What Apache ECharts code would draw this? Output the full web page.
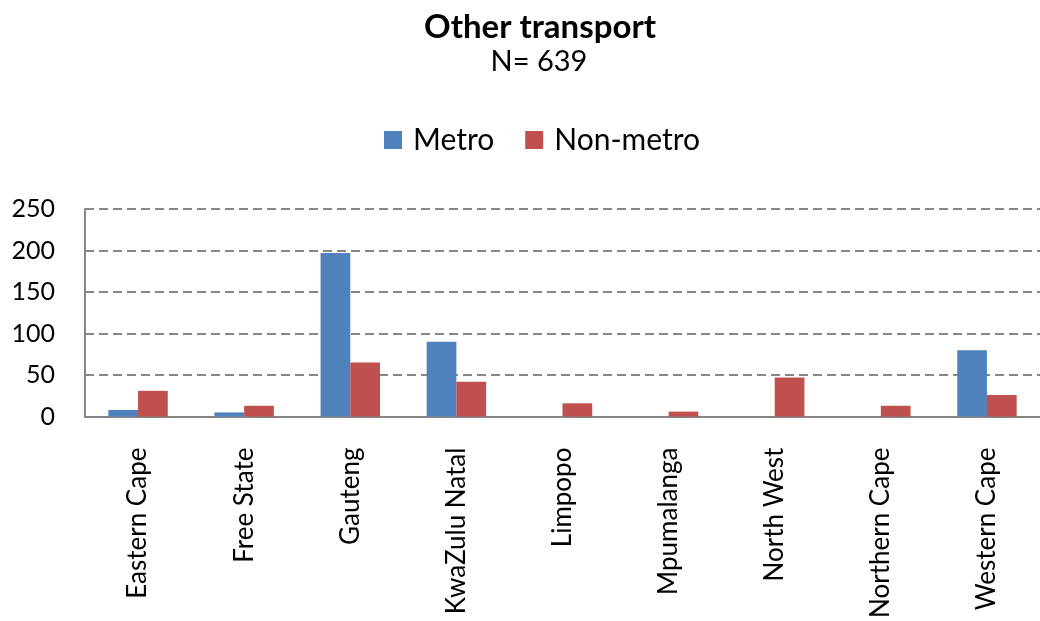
<!DOCTYPE html>
<html>
<head>
<meta charset="utf-8">
<script src="https://cdn.jsdelivr.net/npm/echarts@6/dist/echarts.min.js"></script>
<style>
  html, body { margin: 0; padding: 0; background: #ffffff; }
  #chart { width: 1040px; height: 621px; }
</style>
</head>
<body>
<div id="chart"></div>
<script>
// Provinces along the x axis
const provinces = ['Eastern Cape', 'Free State', 'Gauteng', 'KwaZulu Natal', 'Limpopo',
                   'Mpumalanga', 'North West', 'Northern Cape', 'Western Cape'];
// Respondent counts per province
const metro    = [8, 5, 197, 90, 0, 0, 0, 0, 80];
const nonMetro = [31, 13, 65, 42, 16, 6, 47, 13, 26];
// Value axis ticks
const yTicks = [0, 50, 100, 150, 200, 250];

const FONT = 'Lato';
const chart = echarts.init(document.getElementById('chart'), null, { renderer: 'canvas' });

chart.setOption({
  animation: false,
  backgroundColor: '#ffffff',
  title: [
    {
      text: 'Other transport',
      left: 535, top: 6, textAlign: 'center',
      textStyle: { fontFamily: FONT, fontSize: 33, fontWeight: 'bold', color: '#000' }
    },
    {
      text: 'N= 639',
      left: 534, top: 42, textAlign: 'center',
      textStyle: { fontFamily: FONT, fontSize: 29, fontWeight: 'normal', color: '#000' }
    }
  ],
  legend: {
    left: 379, top: 120,
    itemWidth: 18, itemHeight: 18, itemGap: 31,
    icon: 'rect',
    textStyle: { fontFamily: FONT, fontSize: 30, color: '#000', padding: [0, 0, 0, 6] },
    data: ['Metro', 'Non-metro']
  },
  grid: { left: 85, top: 209, width: 963, bottom: 203, containLabel: false },
  xAxis: {
    type: 'category',
    data: provinces,
    axisLine: { show: true, lineStyle: { color: '#868686', width: 2 } },
    axisTick: { show: false },
    axisLabel: {
      rotate: 90, margin: 31, interval: 0,
      fontFamily: FONT, fontSize: 26, color: '#000'
    }
  },
  yAxis: {
    type: 'value',
    min: yTicks[0], max: yTicks[yTicks.length - 1], interval: 50,
    axisLine: { show: true, lineStyle: { color: '#868686', width: 2 } },
    axisTick: { show: false },
    axisLabel: { margin: 30, fontFamily: FONT, fontSize: 25, color: '#000' },
    splitLine: { show: true, lineStyle: { color: '#868686', width: 2, type: [9, 5] } }
  },
  series: [
    {
      name: 'Metro', type: 'bar', data: metro,
      barGap: '0%', barCategoryGap: '44%',
      itemStyle: { color: '#4F81BD' }
    },
    {
      name: 'Non-metro', type: 'bar', data: nonMetro,
      barGap: '0%', barCategoryGap: '44%',
      itemStyle: { color: '#C0504D' }
    }
  ]
});
</script>
</body>
</html>
